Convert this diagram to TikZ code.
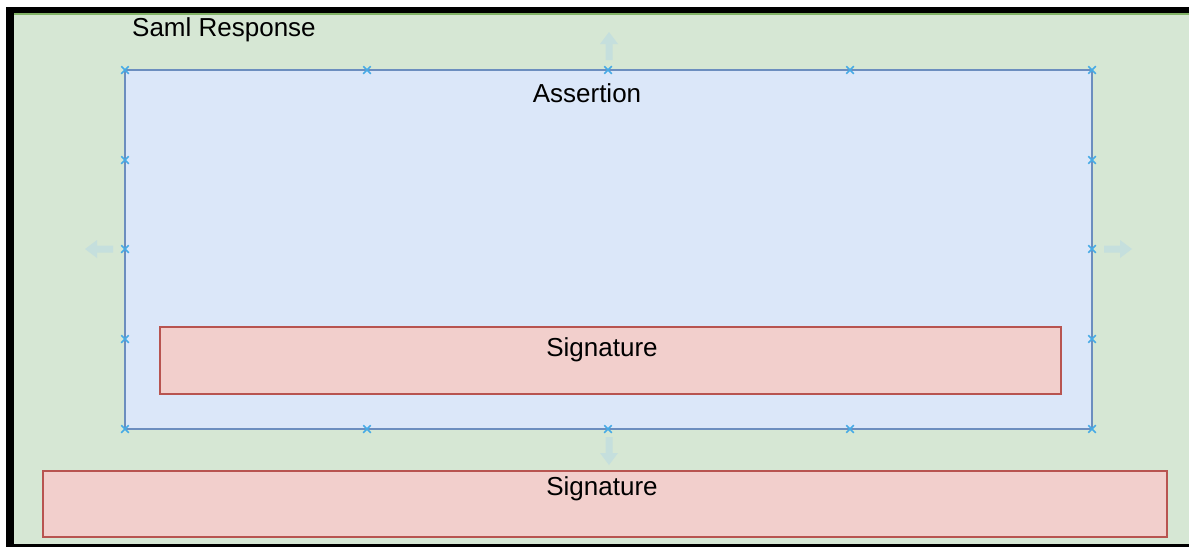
\documentclass[tikz,border=0pt]{standalone}
\usepackage{fontspec}
\setmainfont{Liberation Sans}
\usetikzlibrary{positioning,shapes.misc}
\definecolor{respfill}{RGB}{214,231,212}
\definecolor{respline}{RGB}{130,179,102}
\definecolor{assertfill}{RGB}{219,231,249}
\definecolor{assertline}{RGB}{108,142,191}
\definecolor{sigfill}{RGB}{242,207,204}
\definecolor{sigline}{RGB}{184,84,80}
\definecolor{handlecol}{RGB}{70,170,230}
\definecolor{hovercol}{RGB}{197,223,221}
\tikzset{
  box/.style={draw,inner sep=0pt,outer sep=0pt,anchor=north west,line width=1.4pt},
  respbox/.style={box,draw=none,fill=respfill},
  assertbox/.style={box,fill=assertfill,draw=assertline},
  sigbox/.style={box,fill=sigfill,draw=sigline},
  lbl/.style={font=\fontsize{26}{30}\selectfont,inner sep=0pt},
  handle/.style={cross out,draw=handlecol,line width=1.5pt,minimum size=6pt,inner sep=0pt},
  hoverarrow/.pic={\fill[hovercol] (0,-3.5) -- (16,-3.5) -- (16,-9) -- (28,0) -- (16,9) -- (16,3.5) -- (0,3.5) -- cycle;}
}

\begin{document}
\begin{tikzpicture}[x=1pt,y=-1pt]
  \useasboundingbox[fill=white] (0,0) rectangle (1189,547);
  \fill[black] (6,7) rectangle (1189,547);
  % outer response frame
  \node[respbox,minimum width=1175pt,minimum height=530pt] (response) at (14,14) {};
  \draw[respline,line width=1.2pt] (response.north west) -- (response.north east);
  \node[lbl,anchor=west] (resptitle) at (132,29.5) {Saml Response};
  % assertion
  \node[assertbox,minimum width=967pt,minimum height=359pt] (assertion) at (125,70) {};
  \node[lbl] (asserttitle) at (587,93) {Assertion};
  \node[sigbox,minimum width=901pt,minimum height=67pt] (siginner) at (160,327) {};
  \node[lbl] (siginnertitle) at (602,350) {Signature};
  % signature of the response
  \node[sigbox,minimum width=1124pt,minimum height=66pt] (sigouter) at (43,471) {};
  \node[lbl] (sigoutertitle) at (602,489) {Signature};
  % selection handles
  \foreach \x in {125,367,608,850,1092} {
    \node[handle] (htop\x) at (\x,70) {};
    \node[handle] (hbot\x) at (\x,429) {};
  }
  \foreach \y in {160,249,339} {
    \node[handle] (hleft\y) at (125,\y) {};
    \node[handle] (hright\y) at (1092,\y) {};
  }
  % hover arrows
  \pic[rotate=90] at (609,60) {hoverarrow};
  \pic[rotate=-90] at (609,437) {hoverarrow};
  \pic[rotate=180] at (113,249) {hoverarrow};
  \pic at (1104,249) {hoverarrow};
\end{tikzpicture}
\end{document}
